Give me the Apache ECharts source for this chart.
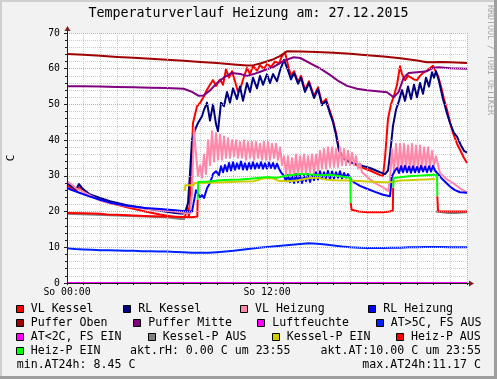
<!DOCTYPE html>
<html><head><meta charset="utf-8">
<script src="https://cdn.jsdelivr.net/npm/echarts@6/dist/echarts.min.js"></script>
<style>html,body{margin:0;padding:0;background:#f2f2f2}#c{width:497px;height:379px}</style>
</head><body><div id="c"></div><script>
// ---------- data ----------
const titleText = 'Temperaturverlauf Heizung am: 27.12.2015';
const xTickLabels = [[0, 'So 00:00'], [12, 'So 12:00']];
const yUnit = 'C';
const seriesNames = ['VL Kessel','RL Kessel','VL Heizung','RL Heizung','Puffer Oben','Puffer Mitte','Luftfeuchte','AT>5C, FS AUS','AT<2C, FS EIN','Kessel-P AUS','Kessel-P EIN','Heiz-P AUS','Heiz-P EIN'];
const aktRH = 0.00, aktAT = 10.00, minAT = 8.45, maxAT = 11.17, aktTime = '23:55';

const vlKessel = [[0,27.3],[0.3,26.5],[0.54,25.8],[0.78,26.9],[1.02,25.6],[1.38,24.6],[1.98,23.3],[2.58,22.4],[3.6,21.2],[4.68,20.0],[5.58,19.2],[6.48,18.5],[6.9,18.2],[7.08,18.4],[7.2,21.5],[7.32,18.6],[7.44,30],[7.56,44.8],[7.8,49.5],[7.98,50.4],[8.16,51.8],[8.4,54.1],[8.58,55.5],[8.76,56.8],[8.94,55.2],[9.18,57.0],[9.36,55.5],[9.54,59.8],[9.72,57.5],[9.9,59.3],[10.08,56.5],[10.26,53.5],[10.44,55.0],[10.62,57.8],[10.8,60.2],[10.98,58.5],[11.16,60.8],[11.4,59.5],[11.58,61.0],[11.82,60.0],[12.0,61.3],[12.24,60.5],[12.48,62.0],[12.72,61.5],[12.9,63.5],[13.08,64.6],[13.26,61.0],[13.44,58.0],[13.62,59.3],[13.86,56.3],[14.04,58.0],[14.28,54.0],[14.52,56.5],[14.82,52.3],[15.06,54.8],[15.3,50.3],[15.54,51.5],[15.78,48.0],[15.96,45.5],[16.14,42.0],[16.32,37.5],[16.5,35.5],[16.74,34.6],[16.98,34.0],[17.58,32.5],[18.18,31.5],[18.78,30.2],[18.96,30.0],[19.08,35],[19.26,46],[19.44,50],[19.62,52.5],[19.8,55.5],[19.98,60.7],[20.1,58.5],[20.28,56.8],[20.46,58.0],[20.64,57.5],[20.82,57.0],[21.0,56.8],[21.18,58.0],[21.36,58.8],[21.6,59.5],[21.78,60.2],[21.96,60.8],[22.08,61.1],[22.26,58.0],[22.44,55.0],[22.62,51.5],[22.8,48.5],[22.98,45.0],[23.16,42.0],[23.4,39.0],[23.58,37.3],[23.82,35.0],[24,33.6]];
const rlKessel = [[0,28.0],[0.3,27.0],[0.54,26.2],[0.72,27.7],[0.96,26.3],[1.38,24.8],[1.98,23.8],[2.58,22.9],[3.6,21.8],[4.68,20.9],[5.58,20.2],[6.48,19.6],[6.96,19.4],[7.14,20.5],[7.26,22.4],[7.38,30.8],[7.5,40.1],[7.68,42.9],[7.86,44.8],[8.1,46.7],[8.22,48.5],[8.4,50.5],[8.58,45.5],[8.76,50.0],[8.94,44.5],[9.06,42.5],[9.24,50.5],[9.42,49.5],[9.6,53.5],[9.78,50.5],[9.96,54.5],[10.2,51.5],[10.38,55.0],[10.56,51.0],[10.8,56.0],[10.98,53.5],[11.16,57.5],[11.4,54.5],[11.58,58.0],[11.76,55.5],[12.0,58.5],[12.18,56.0],[12.36,58.5],[12.6,56.5],[12.78,59.5],[13.02,62.5],[13.26,59.5],[13.44,57.0],[13.62,58.8],[13.86,55.8],[14.04,57.5],[14.28,53.5],[14.52,56.0],[14.82,51.8],[15.06,54.3],[15.3,49.8],[15.54,51.0],[15.78,47.5],[15.96,45.0],[16.14,41.5],[16.32,37.0],[16.5,35.2],[16.74,34.4],[16.98,33.8],[17.58,33.0],[18.18,32.2],[18.78,31.0],[19.08,30.5],[19.26,31.5],[19.38,36],[19.56,44],[19.74,48.5],[19.92,51.0],[20.1,54.0],[20.28,51.0],[20.46,55.0],[20.64,51.5],[20.82,55.5],[21.0,52.0],[21.18,56.0],[21.36,53.0],[21.54,57.5],[21.72,55.0],[21.9,59.0],[22.02,57.5],[22.14,59.3],[22.32,56.5],[22.56,51.5],[22.8,47.5],[22.98,44.8],[23.22,42.0],[23.4,41.0],[23.64,38.5],[23.82,37.0],[24,36.5]];
const vlHeizung = [[0,28.5],[0.3,27.5],[0.54,26.5],[0.78,26.0],[1.38,24.5],[1.98,23.1],[2.58,22.3],[3.6,21.5],[4.68,20.8],[5.58,20.4],[6.48,20.0],[7.08,19.6],[7.38,19.6],[7.5,25],[7.62,43.5],[7.74,36],[7.86,30],[7.98,33],[8.1,29.5],[8.22,36],[8.34,30.5],[8.46,40],[8.58,33],[8.7,42.5],[8.82,34],[8.94,42],[9.06,34.5],[9.18,41.5],[9.3,34.5],[9.42,41],[9.54,35],[9.66,40.5],[9.78,35],[9.9,40],[10.02,35.5],[10.14,40],[10.26,35],[10.38,39.5],[10.5,35],[10.62,40],[10.74,34.5],[10.86,39.5],[10.98,35],[11.1,39.5],[11.22,34.5],[11.34,39.5],[11.46,35],[11.58,39],[11.7,34.5],[11.82,39.5],[11.94,34.5],[12.06,39.5],[12.18,34.5],[12.3,39],[12.42,35],[12.54,39],[12.66,34.5],[12.78,38],[12.9,33],[13.02,35.5],[13.14,30.5],[13.26,35.5],[13.38,30],[13.5,35],[13.62,30],[13.74,36],[13.86,30],[13.98,35.5],[14.1,31],[14.22,36],[14.34,30.5],[14.46,35.5],[14.58,31],[14.7,36],[14.82,30.5],[14.94,36],[15.06,31.5],[15.18,37],[15.3,32],[15.42,37.5],[15.54,32],[15.66,38],[15.78,32.5],[15.9,38],[16.02,32.5],[16.14,37.5],[16.26,32.5],[16.38,38],[16.5,33],[16.62,37.5],[16.74,33],[16.86,37],[16.98,33],[17.1,36.5],[17.22,33],[17.34,35.5],[17.46,32],[17.58,33.5],[17.7,31],[17.94,30.0],[18.18,29.0],[18.54,27.8],[18.96,26.8],[19.26,25.8],[19.38,29],[19.5,37.5],[19.62,31],[19.74,39],[19.86,31.5],[19.98,39],[20.1,31.5],[20.22,39],[20.34,32],[20.46,38.5],[20.58,31.5],[20.7,39],[20.82,31.5],[20.94,38.5],[21.06,32],[21.18,38.5],[21.3,32],[21.42,38],[21.54,32.5],[21.66,38],[21.78,32.5],[21.9,37],[22.02,33],[22.14,35.5],[22.38,30.8],[22.8,29.0],[23.16,28.0],[23.58,26.5],[24,25.3]];
const rlHeizung = [[0,26.6],[0.3,26.0],[0.78,25.2],[1.38,24.2],[1.98,23.3],[2.58,22.5],[3.6,21.6],[4.68,21.0],[5.58,20.7],[6.48,20.4],[7.08,20.1],[7.5,20.0],[7.62,20.5],[7.74,26.0],[7.86,25.5],[7.98,24.0],[8.1,24.6],[8.22,23.8],[8.4,26.5],[8.58,28.0],[8.76,30.5],[8.94,31.3],[9.12,30.2],[9.24,32.7],[9.36,31.0],[9.48,33.0],[9.6,31.3],[9.72,33.6],[9.84,31.5],[9.96,33.8],[10.08,31.7],[10.2,33.5],[10.32,32.0],[10.44,34.0],[10.56,31.8],[10.68,33.5],[10.8,31.7],[10.92,33.6],[11.04,32.0],[11.16,33.8],[11.28,32.0],[11.4,33.5],[11.52,32.2],[11.64,33.8],[11.76,32.0],[11.88,33.5],[12.0,32.0],[12.12,33.7],[12.24,32.2],[12.36,33.6],[12.48,32.0],[12.6,33.4],[12.72,32.0],[12.84,31.0],[13.02,30.0],[13.14,28.5],[13.26,30.2],[13.38,28.3],[13.5,30.0],[13.62,28.0],[13.74,30.5],[13.86,28.2],[13.98,30.3],[14.1,28.0],[14.22,30.0],[14.34,28.5],[14.46,30.5],[14.58,28.3],[14.7,30.2],[14.82,28.8],[14.94,31.0],[15.06,29.0],[15.18,31.3],[15.3,29.2],[15.42,31.0],[15.54,29.3],[15.66,31.4],[15.78,29.0],[15.9,31.2],[16.02,29.3],[16.14,31.0],[16.26,29.5],[16.38,31.3],[16.5,29.3],[16.62,30.8],[16.74,29.5],[16.86,30.5],[17.04,28.9],[17.28,28.0],[17.58,27.2],[18.0,26.4],[18.48,25.5],[18.96,24.7],[19.38,24.3],[19.5,29.9],[19.68,31.5],[19.8,32.2],[19.92,30.8],[20.04,32.7],[20.16,31.0],[20.28,32.8],[20.4,31.0],[20.52,32.6],[20.64,30.9],[20.76,32.7],[20.88,31.0],[21.0,32.5],[21.12,31.0],[21.24,32.8],[21.36,31.2],[21.48,32.6],[21.6,31.0],[21.72,32.7],[21.84,31.2],[21.96,32.8],[22.08,31.5],[22.2,32.0],[22.56,28.9],[22.98,27.0],[23.28,26.0],[23.58,25.4],[24,25.3]];
const pufferOben = [[0,64.1],[1,63.9],[2,63.6],[3,63.3],[4,63.1],[5,62.8],[6,62.5],[7,62.2],[8,61.9],[9,61.6],[10,61.2],[10.8,60.9],[11.2,61.0],[11.7,61.6],[12.3,62.5],[12.8,63.6],[13.2,64.9],[14,64.8],[15,64.7],[16,64.5],[17,64.2],[18,63.8],[19,63.4],[20,62.9],[21,62.3],[21.6,61.8],[22.5,61.9],[23,61.8],[24,61.6]];
const pufferMitte = [[0,55.1],[1,55.1],[2,55.0],[3,54.9],[4,54.8],[5,54.7],[6,54.6],[7,54.4],[7.5,53.5],[7.9,52.4],[8.2,52.5],[8.6,54.0],[9.0,56.0],[9.5,57.8],[9.9,58.8],[10.4,58.5],[10.8,58.0],[11.2,58.5],[11.8,59.5],[12.4,60.5],[13.0,62.2],[13.6,63.2],[14.0,63.0],[14.6,61.5],[15.2,60.0],[15.8,58.2],[16.3,56.5],[16.8,55.2],[17.4,54.4],[18,54.0],[18.6,53.7],[19.2,53.4],[19.6,52.0],[19.9,53.5],[20.2,57.5],[20.5,58.8],[21.0,59.0],[21.6,59.3],[22.0,60.3],[22.3,60.4],[23,60.1],[24,60.0]];
const luftfeuchte = [[0,0],[24,0]];
const atHigh = [[0,9.7],[0.5,9.5],[1,9.4],[1.5,9.3],[2,9.2],[2.5,9.2],[3,9.1],[3.5,9.0],[4,9.0],[4.5,8.9],[5,8.9],[5.5,8.8],[6,8.8],[6.5,8.7],[7,8.6],[7.5,8.5],[8,8.45],[8.5,8.45],[9,8.6],[9.5,8.8],[10,9.0],[10.5,9.3],[11,9.6],[11.5,9.9],[12,10.1],[12.5,10.3],[13,10.5],[13.5,10.7],[14,10.9],[14.5,11.1],[15,11.0],[15.5,10.8],[16,10.5],[16.5,10.2],[17,10.0],[17.5,9.9],[18,9.8],[18.5,9.8],[19,9.8],[19.5,9.9],[20,9.9],[20.5,10.0],[21,10.0],[21.5,10.1],[22,10.1],[22.5,10.1],[23,10.0],[23.5,10.0],[24,10.0]];
const atLow = [];
const kesselPAus = [[0,19.4],[3,18.9],[6,18.4],[6.8,17.9],[7.08,17.9],[7.1,null],[22.1,null],[22.12,20.0],[22.9,19.6],[23.3,19.6],[24,19.8]];
const kesselPEin = [[7.08,25.8],[7.1,27.4],[7.6,27.4],[7.65,28.0],[8.5,28.1],[9.5,28.2],[10.5,28.4],[11.2,28.5],[11.8,29.3],[12.3,29.4],[12.7,28.6],[13.2,28.5],[13.8,28.7],[14.5,29.3],[15.0,29.5],[15.5,29.0],[16,28.8],[17,28.7],[18,28.4],[19,28.2],[19.5,28.3],[20,28.7],[20.5,28.8],[21,28.9],[21.5,29.0],[22.1,29.1]];
const heizPAus = [[0,19.6],[1,19.5],[2,19.4],[2.4,19.2],[3,19.1],[4,18.9],[5,18.7],[6,18.6],[7,18.5],[7.5,18.4],[7.82,18.6],[7.84,23.3],[7.9,null],[17.02,22.5],[17.08,20.5],[17.5,20.0],[18,19.8],[18.5,19.8],[19,19.8],[19.35,20.0],[19.45,20.5],[19.55,20.3],[19.57,26.7],[19.6,null],[22.22,24.3],[22.26,20.1],[23,20.0],[24,20.0]];
const heizPEin = [[7.84,23.3],[7.87,28.3],[8.5,28.4],[9.2,28.8],[9.8,28.9],[10.4,29.0],[11.0,29.2],[11.6,29.5],[12.0,29.7],[12.6,29.5],[13.0,29.9],[13.6,30.3],[14.0,30.5],[14.6,30.4],[15.2,30.2],[15.8,30.3],[16.4,29.9],[17.0,29.4],[17.02,22.5],[17.1,null],[19.57,26.7],[19.6,29.4],[20.0,29.6],[20.5,29.9],[21.0,30.0],[21.5,30.2],[22.0,30.3],[22.2,30.3],[22.22,24.3]];

const seriesData = [vlKessel, rlKessel, vlHeizung, rlHeizung, pufferOben, pufferMitte, luftfeuchte, atHigh, atLow, kesselPAus, kesselPEin, heizPAus, heizPEin];

// ---------- styling / layout ----------
const seriesColors = ['#ff0000','#000080','#ff88aa','#0000ff','#a00000','#800080','#ff00ff','#0022ff','#ff00ff','#808080','#cccc00','#ff0000','#00ff00'];
const legendTextPos = [[30.7,309],[138.3,309],[255,309],[383.3,309],[30.7,323.3],[148.3,323.3],[272.3,323.3],[390.7,323.3],[30.7,337.3],[162.7,337.3],[286.7,337.3],[411,337.3],[30.7,351.3]];
const MONO = 'DejaVu Sans Mono';
const LFONT = '11.6px "DejaVu Sans Mono"';
const f5 = v => v.toFixed(2).padStart(5, ' ');
const infoItems = [
  {text: 'akt.rH:' + f5(aktRH) + ' C um ' + aktTime, x: 130, y: 351.3, align: 'left'},
  {text: 'akt.AT:' + f5(aktAT) + ' C um ' + aktTime, x: 481, y: 351.3, align: 'right'},
  {text: 'min.AT24h:' + f5(minAT) + ' C', x: 16.7, y: 365, align: 'left'},
  {text: 'max.AT24h:' + f5(maxAT) + ' C', x: 481, y: 365, align: 'right'}
];

const graphics = [];
// frame
graphics.push({type:'rect', shape:{x:0,y:0,width:497,height:2}, style:{fill:'#cfcfcf'}, silent:true});
graphics.push({type:'rect', shape:{x:0,y:0,width:2,height:379}, style:{fill:'#cfcfcf'}, silent:true});
graphics.push({type:'rect', shape:{x:494,y:0,width:3,height:379}, style:{fill:'#9e9e9e'}, silent:true});
graphics.push({type:'rect', shape:{x:0,y:376,width:497,height:3}, style:{fill:'#9e9e9e'}, silent:true});
// axis arrows
graphics.push({type:'line', shape:{x1:67.5,y1:33,x2:67.5,y2:29}, style:{stroke:'#1f1f1f', lineWidth:1}, silent:true, z:10});
graphics.push({type:'polygon', shape:{points:[[67.5,26],[64.5,31],[70.5,31]]}, style:{fill:'#801f1f'}, silent:true, z:10});
graphics.push({type:'line', shape:{x1:467,y1:283.5,x2:471,y2:283.5}, style:{stroke:'#1f1f1f', lineWidth:1}, silent:true, z:10});
graphics.push({type:'polygon', shape:{points:[[474,283.5],[469,280.5],[469,286.5]]}, style:{fill:'#801f1f'}, silent:true, z:10});
// unit label
graphics.push({type:'text', x:11, y:158, rotation:Math.PI/2, style:{text:yUnit, font:'11px "DejaVu Sans Mono"', fill:'#000', align:'center', verticalAlign:'middle'}, silent:true});
// watermark
graphics.push({type:'text', x:490.5, y:60, rotation:-Math.PI/2, style:{text:'RRDTOOL / TOBI OETIKER', font:'8.3px "DejaVu Sans Mono"', fill:'#a8a8a8', align:'center', verticalAlign:'middle'}, silent:true});
// legend
seriesNames.forEach((n, i) => {
  const [tx, ty] = legendTextPos[i];
  const bx = Math.round(tx - 15);
  graphics.push({type:'rect', shape:{x:bx+0.5, y:Math.round(ty)-4+0.5, width:7, height:7}, style:{fill:seriesColors[i], stroke:'#000', lineWidth:1}, silent:true});
  graphics.push({type:'text', x:tx, y:ty, style:{text:n, font:LFONT, fill:'#000', align:'left', verticalAlign:'middle'}, silent:true});
});
infoItems.forEach(it => {
  graphics.push({type:'text', x:it.x, y:it.y, style:{text:it.text, font:LFONT, fill:'#000', align:it.align, verticalAlign:'middle'}, silent:true});
});

const gridMinor = {show:true, lineStyle:{color:'#cccccc', width:1, type:[1,1]}};
const gridMajor = {show:true, lineStyle:{color:'#e6a0a0', width:1, type:[1,1]}};

const option = {
  animation: false,
  backgroundColor: '#f2f2f2',
  title: {text: titleText, left: 'center', top: 7, padding: 0,
    textStyle: {fontFamily: MONO, fontSize: 13.3, fontWeight: 'normal', color: '#000', lineHeight: 14}},
  grid: {left: 67, top: 33, width: 400, height: 250, show: true, backgroundColor: '#ffffff', borderWidth: 0},
  xAxis: [
    {type:'value', position:'bottom', min:0, max:24, interval:1, splitLine:gridMinor,
     axisLine:{show:false}, axisTick:{show:true, length:2, lineStyle:{color:'#1f1f1f'}}, axisLabel:{show:false}},
    {type:'value', position:'bottom', offset:0, min:0, max:24, interval:6, splitLine:gridMajor, z:5,
     axisLine:{show:true, onZero:false, lineStyle:{color:'#1f1f1f', width:1}}, axisTick:{show:false},
     axisLabel:{show:true, margin:4, fontFamily:MONO, fontSize:9.8, color:'#000',
       formatter: v => { const f = xTickLabels.find(l => l[0] === v); return f ? f[1] : ''; }}}
  ],
  yAxis: [
    {type:'value', position:'left', min:0, max:70, interval:2, splitLine:gridMinor,
     axisLine:{show:false}, axisTick:{show:true, length:2, lineStyle:{color:'#1f1f1f'}}, axisLabel:{show:false}},
    {type:'value', position:'left', offset:0, min:0, max:70, interval:10, splitLine:gridMajor, z:5,
     axisLine:{show:true, onZero:false, lineStyle:{color:'#1f1f1f', width:1}}, axisTick:{show:true, length:3, lineStyle:{color:'#1f1f1f'}},
     axisLabel:{show:true, margin:7, fontFamily:MONO, fontSize:9.8, color:'#000'}}
  ],
  series: seriesNames.map((n, i) => ({
    name: n, type: 'line', xAxisIndex: 1, yAxisIndex: 1,
    data: seriesData[i], showSymbol: false, symbol: 'none', connectNulls: false,
    lineStyle: {color: seriesColors[i], width: 2, join: 'round', cap: 'butt'},
    itemStyle: {color: seriesColors[i]}, silent: true, clip: true
  })),
  graphic: graphics
};
const chart = echarts.init(document.getElementById('c'));
chart.setOption(option);
</script></body></html>
